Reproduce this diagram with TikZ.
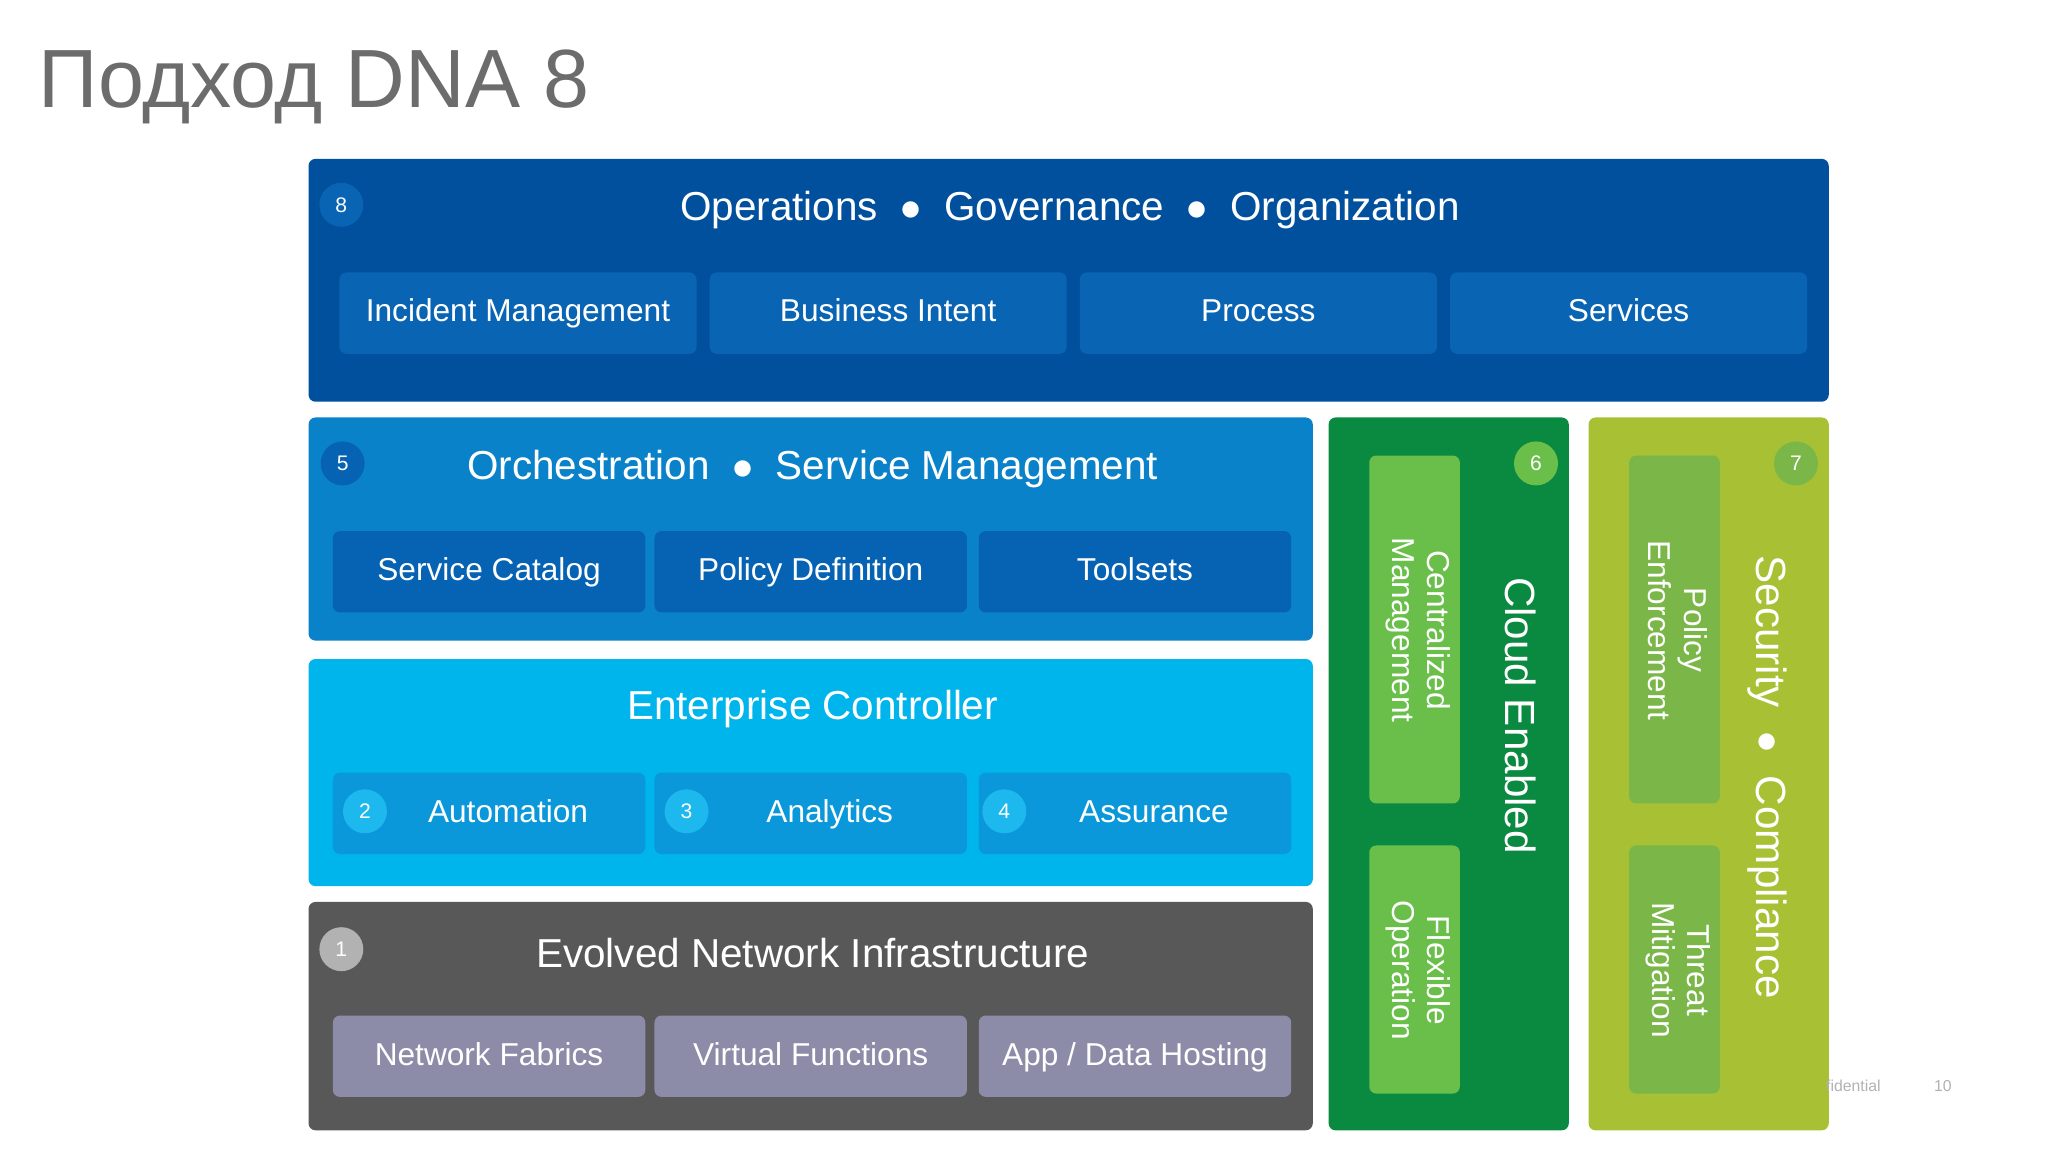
\documentclass[tikz,border=0pt]{standalone}
\usepackage{fontspec}
\setmainfont{Liberation Sans}
\begin{document}
\begin{tikzpicture}[x=0.01313cm,y=-0.01313cm,
  panel/.style={draw=none,rounded corners=2pt},
  sub/.style={draw=none,rounded corners=2pt,text=white,text height=7pt,text depth=2pt,font=\fontsize{9}{10}\selectfont},
  badge/.style={circle,minimum size=12.5pt,inner sep=0pt,text=white,font=\fontsize{6}{7}\selectfont},
  head/.style={text=white,font=\fontsize{11.5}{13}\selectfont},
  vtext/.style={text=white,rotate=-90,align=center,font=\fontsize{9}{10}\selectfont}]
\definecolor{dblue}{HTML}{00509E}
\definecolor{dsub}{HTML}{0A64B4}
\definecolor{mblue}{HTML}{0A82CA}
\definecolor{msub}{HTML}{0662B2}
\definecolor{lblue}{HTML}{00B4EC}
\definecolor{lsub}{HTML}{0A98DA}
\definecolor{lbadge}{HTML}{1CB8EE}
\definecolor{gray1}{HTML}{585858}
\definecolor{gsub}{HTML}{8C8CA8}
\definecolor{green1}{HTML}{0A8A40}
\definecolor{gsub2}{HTML}{6ABF4B}
\definecolor{yel}{HTML}{A8C034}
\definecolor{ysub}{HTML}{7AB648}
\useasboundingbox (0,0) rectangle (1560,878);
\fill[white] (0,0) rectangle (1560,878);
\node[anchor=west,text=gray!85!black,font=\fontsize{23.5}{28}\selectfont] (title) at (20,66) {Подход DNA 8};
% top
\fill[panel,dblue] (235,121) rectangle (1393,306);
\node[badge,fill=dsub] (b8) at (260,156) {8};
\node[head] (h8) at (815,160) {Operations \ $\bullet$ \ Governance \ $\bullet$ \ Organization};
\foreach \x/\t/\n in {258/Incident Management/s1,540/Business Intent/s2,822/Process/s3,1104/Services/s4}
  \node[sub,fill=dsub,minimum width=272*0.01313cm,minimum height=62*0.01313cm,anchor=north west] (\n) at (\x,207) {\t};
% orchestration
\fill[panel,mblue] (235,318) rectangle (1000,488);
\node[badge,fill=msub] (b5) at (261,353) {5};
\node[head] (h5) at (619,357) {Orchestration \ $\bullet$ \ Service Management};
\foreach \x/\t/\n in {253/Service Catalog/o1,498/Policy Definition/o2,745/Toolsets/o3}
  \node[sub,fill=msub,minimum width=238*0.01313cm,minimum height=62*0.01313cm,anchor=north west] (\n) at (\x,404) {\t};
% enterprise controller
\fill[panel,lblue] (235,502) rectangle (1000,675);
\node[head] (hec) at (619,540) {Enterprise Controller};
\foreach \x/\t/\n in {253/Automation/e1,498/Analytics/e2,745/Assurance/e3}
  \node[sub,fill=lsub,minimum width=238*0.01313cm,minimum height=62*0.01313cm,anchor=north west] (\n) at (\x,588) {\hspace{1.2em}\t};
\node[badge,fill=lbadge] (b2) at (278,618) {2};
\node[badge,fill=lbadge] (b3) at (523,618) {3};
\node[badge,fill=lbadge] (b4) at (765,618) {4};
% evolved
\fill[panel,gray1] (235,687) rectangle (1000,861);
\node[badge,fill=gray!60] (b1) at (260,723) {1};
\node[head] (h1) at (619,726) {Evolved Network Infrastructure};
\foreach \x/\t/\n in {253/{Network Fabrics}/n1,498/{Virtual Functions}/n2,745/{App / Data Hosting}/n3}
  \node[sub,fill=gsub,minimum width=238*0.01313cm,minimum height=62*0.01313cm,anchor=north west] (\n) at (\x,773) {\t};
% cloud
\fill[panel,green1] (1012,318) rectangle (1195,861);
\node[badge,fill=gsub2] (b6) at (1170,353) {6};
\fill[panel,gsub2] (1043,347) rectangle (1112,612);
\fill[panel,gsub2] (1043,644) rectangle (1112,833);
\node[vtext] (c1) at (1080,480) {Centralized\\Management};
\node[vtext] (c2) at (1080,739) {Flexible\\Operation};
\node[vtext,font=\fontsize{12}{14}\selectfont] (hc) at (1158,545) {Cloud Enabled};
% security
\fill[panel,yel] (1210,318) rectangle (1393,861);
\node[badge,fill=ysub] (b7) at (1368,353) {7};
\fill[panel,ysub] (1241,347) rectangle (1310,612);
\fill[panel,ysub] (1241,644) rectangle (1310,833);
\node[vtext] (p1) at (1278,480) {Policy\\Enforcement};
\node[vtext] (p2) at (1278,739) {Threat\\Mitigation};
\node[vtext,font=\fontsize{12}{14}\selectfont] (hs) at (1346,592) {Security \ $\bullet$ \ Compliance};
% footer
\node[text=gray!60,font=\fontsize{4.5}{5}\selectfont,anchor=east] (f1) at (1442,827) {fidential};
\node[text=gray!60,font=\fontsize{4.5}{5}\selectfont] (f2) at (1480,827) {10};
\end{tikzpicture}
\end{document}
